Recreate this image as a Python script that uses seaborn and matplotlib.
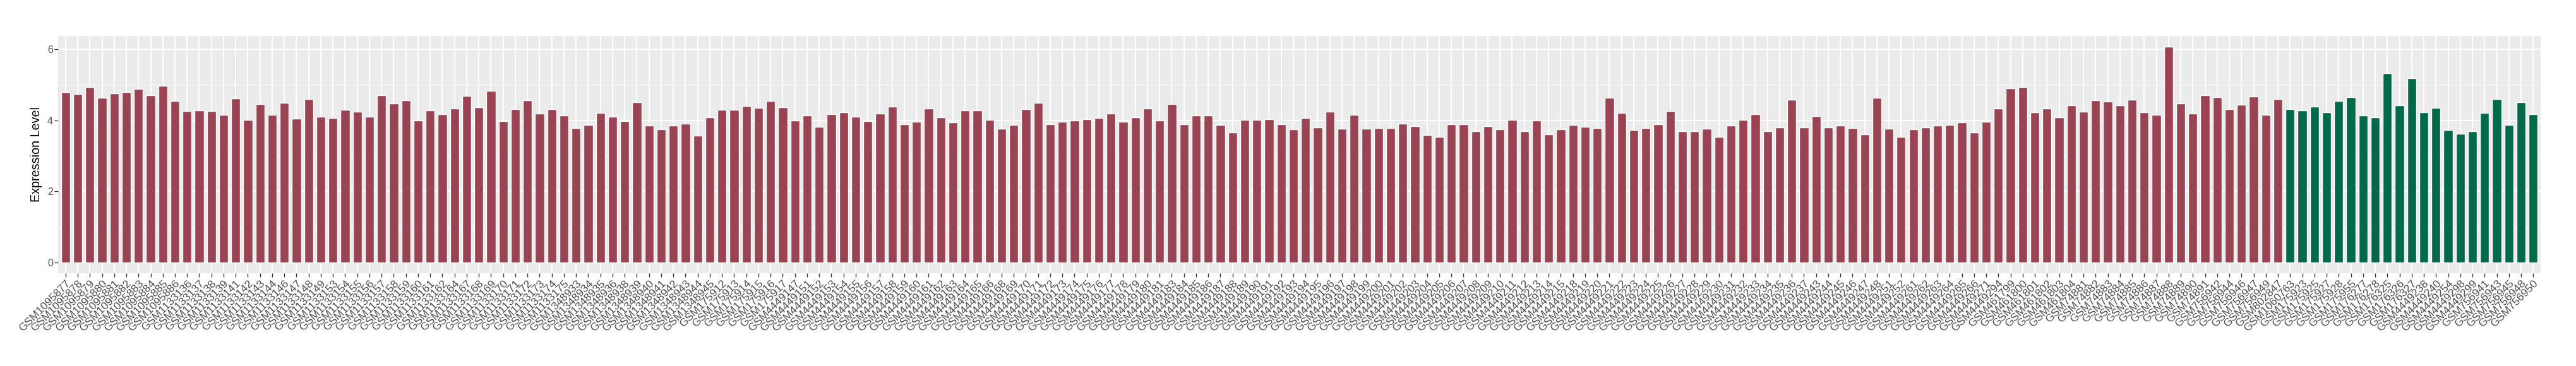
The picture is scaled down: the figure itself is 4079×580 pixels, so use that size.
import matplotlib
matplotlib.use("Agg")
import matplotlib.pyplot as plt
import seaborn as sns
import pandas as pd
from matplotlib.ticker import MultipleLocator, NullLocator

# sample ids, first group (red bars)
tumor_samples = [
    "GSM1095877", "GSM1095878", "GSM1095879", "GSM1095880", "GSM1095881", "GSM1095882", "GSM1095883", "GSM1095884", "GSM1095885", "GSM1095886",
    "GSM1133136", "GSM1133137", "GSM1133138", "GSM1133139", "GSM1133141", "GSM1133142", "GSM1133143", "GSM1133144", "GSM1133146", "GSM1133147",
    "GSM1133148", "GSM1133149", "GSM1133153", "GSM1133154", "GSM1133155", "GSM1133156", "GSM1133157", "GSM1133158", "GSM1133159", "GSM1133160",
    "GSM1133161", "GSM1133162", "GSM1133164", "GSM1133167", "GSM1133168", "GSM1133169", "GSM1133170", "GSM1133171", "GSM1133172", "GSM1133173",
    "GSM1133174", "GSM1133175", "GSM1348933", "GSM1348934", "GSM1348935", "GSM1348936", "GSM1348938", "GSM1348939", "GSM1348940", "GSM1348941",
    "GSM1348942", "GSM1348943", "GSM1348944", "GSM1348945", "GSM175912", "GSM175913", "GSM175914", "GSM175915", "GSM175916", "GSM175917",
    "GSM4449147", "GSM4449151", "GSM4449152", "GSM4449153", "GSM4449154", "GSM4449155", "GSM4449156", "GSM4449157", "GSM4449158", "GSM4449159",
    "GSM4449160", "GSM4449161", "GSM4449162", "GSM4449163", "GSM4449164", "GSM4449165", "GSM4449166", "GSM4449168", "GSM4449169", "GSM4449170",
    "GSM4449171", "GSM4449172", "GSM4449173", "GSM4449174", "GSM4449175", "GSM4449176", "GSM4449177", "GSM4449178", "GSM4449179", "GSM4449180",
    "GSM4449181", "GSM4449183", "GSM4449184", "GSM4449185", "GSM4449186", "GSM4449187", "GSM4449188", "GSM4449189", "GSM4449190", "GSM4449191",
    "GSM4449192", "GSM4449193", "GSM4449194", "GSM4449195", "GSM4449196", "GSM4449197", "GSM4449198", "GSM4449199", "GSM4449200", "GSM4449201",
    "GSM4449202", "GSM4449203", "GSM4449204", "GSM4449205", "GSM4449206", "GSM4449207", "GSM4449208", "GSM4449209", "GSM4449210", "GSM4449211",
    "GSM4449212", "GSM4449213", "GSM4449214", "GSM4449215", "GSM4449218", "GSM4449219", "GSM4449220", "GSM4449221", "GSM4449222", "GSM4449223",
    "GSM4449224", "GSM4449225", "GSM4449226", "GSM4449227", "GSM4449228", "GSM4449229", "GSM4449230", "GSM4449231", "GSM4449232", "GSM4449233",
    "GSM4449234", "GSM4449235", "GSM4449236", "GSM4449237", "GSM4449243", "GSM4449244", "GSM4449245", "GSM4449246", "GSM4449247", "GSM4449248",
    "GSM4449251", "GSM4449252", "GSM4449261", "GSM4449262", "GSM4449263", "GSM4449264", "GSM4449265", "GSM4449266", "GSM4449271", "GSM4449294",
    "GSM461799", "GSM461800", "GSM461801", "GSM461802", "GSM461803", "GSM461804", "GSM74881", "GSM74882", "GSM74883", "GSM74884",
    "GSM74885", "GSM74886", "GSM74887", "GSM74888", "GSM74889", "GSM74890", "GSM74891", "GSM756942", "GSM756944", "GSM756946",
    "GSM756947", "GSM756949", "GSM802847",
]
tumor_values = [
    4.79, 4.73, 4.93, 4.63, 4.75, 4.79, 4.88, 4.71, 4.96, 4.54,
    4.26, 4.28, 4.26, 4.15, 4.61, 4.01, 4.45, 4.15, 4.49, 4.05,
    4.60, 4.10, 4.06, 4.30, 4.24, 4.10, 4.70, 4.47, 4.56, 3.99,
    4.28, 4.17, 4.33, 4.68, 4.36, 4.83, 3.97, 4.31, 4.56, 4.18,
    4.31, 4.13, 3.78, 3.87, 4.20, 4.10, 3.97, 4.50, 3.85, 3.74,
    3.85, 3.90, 3.57, 4.08, 4.30, 4.30, 4.40, 4.35, 4.54, 4.36,
    3.99, 4.13, 3.82, 4.17, 4.22, 4.10, 3.97, 4.18, 4.38, 3.88,
    3.95, 4.33, 4.08, 3.94, 4.28, 4.28, 4.01, 3.76, 3.87, 4.31,
    4.49, 3.88, 3.95, 3.99, 4.03, 4.06, 4.18, 3.95, 4.08, 4.33,
    3.99, 4.45, 3.88, 4.13, 4.13, 3.87, 3.65, 4.01, 4.01, 4.03,
    3.88, 3.74, 4.06, 3.80, 4.24, 3.76, 4.15, 3.76, 3.78, 3.78,
    3.90, 3.83, 3.58, 3.53, 3.88, 3.88, 3.69, 3.83, 3.74, 4.01,
    3.69, 3.99, 3.60, 3.74, 3.87, 3.82, 3.78, 4.63, 4.20, 3.72,
    3.78, 3.88, 4.26, 3.70, 3.70, 3.76, 3.53, 3.85, 4.01, 4.17,
    3.69, 3.80, 4.58, 3.80, 4.12, 3.80, 3.85, 3.78, 3.60, 4.63,
    3.76, 3.53, 3.74, 3.80, 3.85, 3.87, 3.94, 3.65, 3.95, 4.33,
    4.90, 4.93, 4.22, 4.33, 4.08, 4.42, 4.24, 4.56, 4.52, 4.42,
    4.58, 4.22, 4.15, 6.07, 4.47, 4.18, 4.71, 4.65, 4.31, 4.43,
    4.66, 4.15, 4.60,
]

# second group (green bars)
normal_samples = [
    "GSM1060763", "GSM175923", "GSM175925", "GSM175927", "GSM175928", "GSM175955", "GSM176277",
    "GSM176278", "GSM176325", "GSM176326", "GSM176327", "GSM4449238", "GSM4449240", "GSM4449254",
    "GSM4449298", "GSM4449299", "GSM756941", "GSM756943", "GSM756945", "GSM756948", "GSM756950",
]
normal_values = [
    4.31, 4.28, 4.38, 4.22, 4.54, 4.65, 4.13,
    4.08, 5.32, 4.42, 5.18, 4.22, 4.35, 3.72,
    3.62, 3.70, 4.20, 4.60, 3.87, 4.50, 4.17,
]

group_colors = {"Tumor": "#9A4352", "Normal": "#02694A"}

df = pd.DataFrame({
    "sample": tumor_samples + normal_samples,
    "expr": tumor_values + normal_values,
    "group": ["Tumor"] * len(tumor_samples) + ["Normal"] * len(normal_samples),
})

sns.set_theme(style="darkgrid")
plt.rcParams["font.family"] = ["Liberation Sans", "DejaVu Sans"]

fig, ax = plt.subplots(figsize=(40.8, 5.8), dpi=100)
fig.subplots_adjust(left=0.0226, right=0.9860, bottom=0.2535, top=0.9017)

sns.barplot(data=df, x="sample", y="expr", hue="group", palette=group_colors,
            dodge=False, width=0.74, saturation=1, legend=False, ax=ax)

ax.set_facecolor("#EBEBEB")
for s in ax.spines.values():
    s.set_visible(False)
ax.set_axisbelow(True)

ax.set_yticks([0, 2, 4, 6])
ax.yaxis.set_minor_locator(MultipleLocator(1))
ax.xaxis.set_minor_locator(NullLocator())
ax.grid(which="major", color="white", linewidth=1.4)
ax.grid(which="minor", axis="y", color="white", linewidth=0.7)

ax.set_xlim(-0.6, len(df) - 0.4)
ax.set_ylim(-0.30, 6.37)

ax.tick_params(axis="both", which="major", bottom=True, left=True, length=4, width=1,
               color="#333333", labelcolor="#4D4D4D", pad=2)
ax.tick_params(axis="y", labelsize=11.5)
ax.tick_params(axis="x", labelsize=12.6)
ax.tick_params(axis="both", which="minor", length=0)
plt.setp(ax.get_xticklabels(), rotation=45, ha="right", rotation_mode="anchor")

ax.set_xlabel("")
ax.set_ylabel("Expression Level", fontsize=14.2, color="black", labelpad=6)

fig.savefig("out.png", dpi=100)
